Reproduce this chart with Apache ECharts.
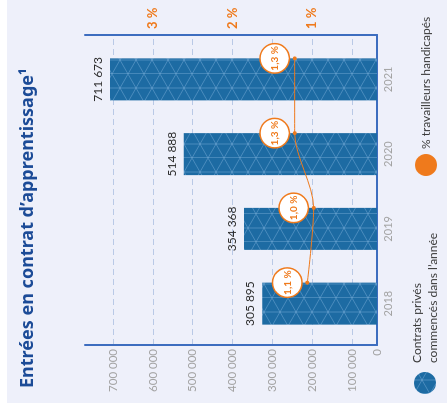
<!DOCTYPE html>
<html>
<head>
<meta charset="utf-8">
<script src="https://cdn.jsdelivr.net/npm/echarts@6/dist/echarts.min.js"></script>
<style>
html,body{margin:0;padding:0;width:447px;height:410px;overflow:hidden;background:#ffffff;}
#chart{position:absolute;left:0;top:0;width:410px;height:447px;transform-origin:0 0;transform:translate(0,410px) rotate(-90deg);}
</style>
</head>
<body>
<div id="chart"></div>
<script>
// ---- data ----
const years = ['2018', '2019', '2020', '2021'];
const contrats = [305895, 354368, 514888, 711673];
const pctHandicap = [1.1, 1.0, 1.3, 1.3];
const valueTickLabels = ['0', '100 000', '200 000', '300 000', '400 000', '500 000', '600 000', '700 000'];
const pctTickLabels = ['1 %', '2 %', '3 %'];
const titleText = 'Entrées en contrat d\u2019apprentissage\u00b9';
const seriesNames = ['Contrats privés\ncommencés dans l\u2019année', '% travailleurs handicapés'];

// ---- styles ----
const BLUE = '#1d6ba3';
const AXIS = '#3d6dbf';
const ORANGE = '#ef7a1c';
const GRAY = '#a3a3a3';

function makePattern() {
  const c = document.createElement('canvas');
  c.width = 28; c.height = 16;
  const g = c.getContext('2d');
  g.fillStyle = BLUE; g.fillRect(0, 0, 28, 16);
  g.strokeStyle = 'rgba(160,200,235,0.45)';
  g.lineWidth = 0.8;
  g.beginPath();
  g.moveTo(0.4, 0); g.lineTo(0.4, 16);
  g.moveTo(14, 0); g.lineTo(14, 16);
  g.moveTo(0, 0); g.lineTo(28, 16);
  g.moveTo(0, 16); g.lineTo(28, 0);
  g.stroke();
  return c;
}
const pattern = { image: makePattern(), repeat: 'repeat' };

function fmtThousands(v) {
  return String(Math.round(v)).replace(/\B(?=(\d{3})+(?!\d))/g, ' ');
}

const chart = echarts.init(document.getElementById('chart'), null, { width: 410, height: 447, renderer: 'canvas' });

const option = {
  backgroundColor: '#ffffff',
  animation: false,
  textStyle: { fontFamily: 'Lato' },
  graphic: [{
    type: 'rect', left: 7, top: 7, z: -10, silent: true,
    shape: { width: 403, height: 440 },
    style: { fill: '#eef0fa' }
  }],
  title: {
    text: titleText, left: 17, top: 14,
    textStyle: { fontFamily: 'Noto Sans', fontSize: 18, fontWeight: 'bold', color: '#1c4b97' }
  },
  legend: [{
    data: [seriesNames[0]], left: 16, top: 409, padding: 0, icon: 'circle', itemWidth: 22, itemHeight: 22,
    selectedMode: false,
    textStyle: { fontSize: 12, color: '#3a3a3a', lineHeight: 16, padding: [0, 0, 0, 4] }
  }, {
    data: [seriesNames[1]], left: 234, top: 415, padding: 0, icon: 'circle', itemWidth: 22, itemHeight: 22,
    selectedMode: false,
    textStyle: { fontSize: 12, color: '#3a3a3a' }
  }],
  grid: [
    { left: 65, right: 35, top: 85, bottom: 70 },   // frame
    { left: 65, right: 35, top: 113, bottom: 70 },  // tick labels + grid lines
    { left: 69, right: 42, top: 85, bottom: 70 },   // bars
    { left: 90, right: 21, top: 85, bottom: 70 }    // line
  ],
  xAxis: [
    { gridIndex: 0, type: 'category', data: years, axisLine: { show: true, lineStyle: { color: AXIS, width: 2 } }, axisTick: { show: false }, axisLabel: { show: false } },
    { gridIndex: 1, type: 'category', data: years, show: false },
    { gridIndex: 2, type: 'category', data: years, axisLine: { show: false }, axisTick: { show: false },
      axisLabel: { color: GRAY, fontSize: 11, margin: 6 } },
    { gridIndex: 3, type: 'category', data: years, show: false }
  ],
  yAxis: [
    { gridIndex: 0, type: 'value', min: 0, max: 1, axisLine: { show: true, lineStyle: { color: AXIS, width: 2 } }, axisTick: { show: false }, axisLabel: { show: false }, splitLine: { show: false } },
    { gridIndex: 0, type: 'value', position: 'right', min: 0, max: 1, axisLine: { show: true, lineStyle: { color: AXIS, width: 2 } }, axisTick: { show: false }, axisLabel: { show: false }, splitLine: { show: false } },
    { gridIndex: 1, type: 'value', min: 37500, max: 700000, splitNumber: 6,
      axisLine: { show: false }, axisTick: { show: false },
      axisLabel: { color: GRAY, fontSize: 11.5, margin: 4,
        formatter: function (v) { const i = Math.round(v / 100000); return v < 100000 ? valueTickLabels[0] : (valueTickLabels[i] || fmtThousands(v)); } },
      splitLine: { show: true, lineStyle: { color: '#b9c9e6', type: [6, 4], width: 1 } } },
    { gridIndex: 1, type: 'value', position: 'right', min: 0.1875, max: 3.5, splitNumber: 3,
      axisLine: { show: false }, axisTick: { show: false }, splitLine: { show: false },
      axisLabel: { showMinLabel: false, showMaxLabel: false, color: ORANGE, fontSize: 13, fontWeight: 'bold', margin: 6,
        formatter: function (v) { return pctTickLabels[Math.round(v) - 1] || ''; } } },
    { gridIndex: 2, type: 'value', min: 0, max: 778000, show: false },
    { gridIndex: 3, type: 'value', min: 0, max: 4.61, show: false }
  ],
  series: [
    {
      name: seriesNames[0], type: 'bar', xAxisIndex: 2, yAxisIndex: 4,
      data: contrats, barWidth: 42,
      itemStyle: { color: pattern },
      label: { show: true, position: 'top', distance: 6, color: '#2e2e2e', fontSize: 12,
        formatter: function (p) { return fmtThousands(p.value); } },
      z: 3
    },
    {
      name: seriesNames[1], type: 'line', xAxisIndex: 3, yAxisIndex: 5,
      data: pctHandicap, symbol: 'circle', symbolSize: 4, smooth: 0.3,
      lineStyle: { color: ORANGE, width: 1 },
      itemStyle: { color: ORANGE },
      label: {
        show: true, position: 'top', distance: 4,
        formatter: function (p) { return String(p.value.toFixed(1)).replace('.', ',') + ' %'; },
        color: ORANGE, fontSize: 10, fontWeight: 'bold',
        backgroundColor: '#ffffff', borderColor: ORANGE, borderWidth: 1.5, borderRadius: 15,
        width: 28, height: 28, lineHeight: 28, align: 'center', padding: 0
      },
      z: 5
    }
  ]
};
chart.setOption(option);
</script>
</body>
</html>
